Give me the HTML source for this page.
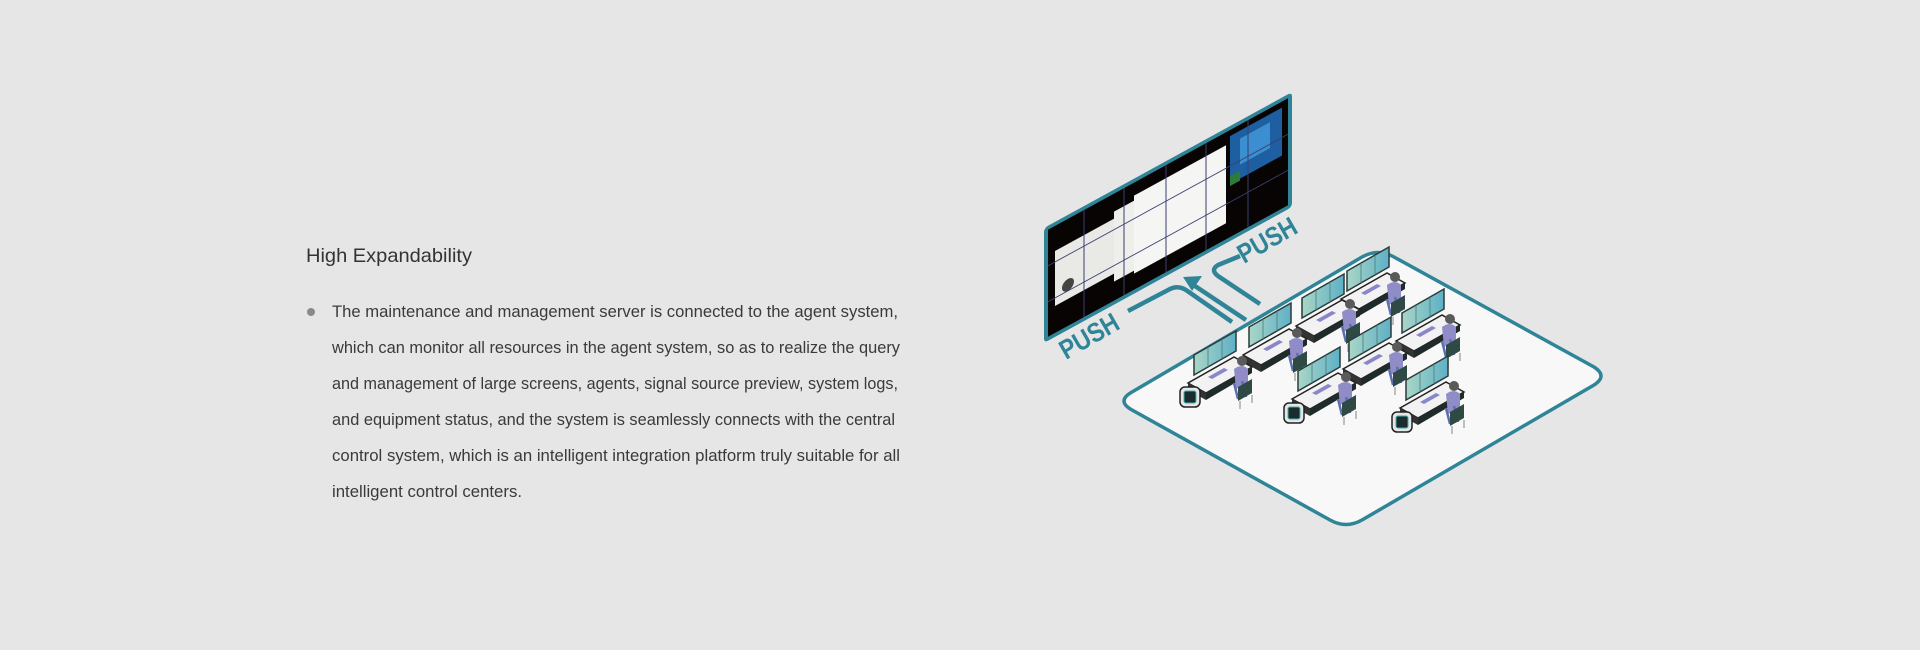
<!DOCTYPE html>
<html><head><meta charset="utf-8"><style>
html,body{margin:0;padding:0;background:#e6e6e6;}
body{width:1920px;height:650px;overflow:hidden;position:relative;font-family:"Liberation Sans",sans-serif;}
svg{position:absolute;left:0;top:0;}
</style></head><body>
<svg width="1920" height="650" viewBox="0 0 1920 650" xmlns="http://www.w3.org/2000/svg">
<defs>
<linearGradient id="mon" x1="0" y1="0" x2="1" y2="0"><stop offset="0" stop-color="#a9d6c6"/><stop offset="1" stop-color="#5fb0c6"/></linearGradient>
<g id="desk">
  <polygon points="-6,10 40,-16 58,-6 12,20" fill="#f2f2f2" stroke="#222" stroke-width="1.5"/>
  <polygon points="12,20 58,-6 58,0 12,27" fill="#1f2a2a"/>
  <polygon points="-6,10 12,20 12,27 -6,17" fill="#333"/>
  <polygon points="0,2 42,-22 42,-42 0,-18" fill="url(#mon)" stroke="#2b3b3b" stroke-width="1.5"/>
  <line x1="14" y1="-6" x2="14" y2="-26" stroke="#4a7a7a" stroke-width="0.8"/>
  <line x1="28" y1="-14" x2="28" y2="-34" stroke="#4a7a7a" stroke-width="0.8"/>
  <polygon points="14,4 30,-5 34,-3 18,6" fill="#8a86c9"/>
  <circle cx="48" cy="-12" r="5" fill="#5a5a5a"/>
  <path d="M40,-4 q8,-6 14,0 l0,14 l-12,6 z" fill="#8f8cc8"/>
  <path d="M40,10 l4,16 M48,8 l4,16" stroke="#5a6fb0" stroke-width="2.5"/>
  <path d="M44,14 l14,-8 l0,14 l-14,8 z" fill="#2f4a44"/>
  <path d="M46,28 l0,8 M58,22 l0,8" stroke="#aaa" stroke-width="1.5"/>
</g>
<g id="term">
  <rect x="-14" y="14" width="20" height="20" rx="5" fill="#e6e6e6" stroke="#222" stroke-width="1.5"/>
  <rect x="-10" y="18" width="12" height="12" rx="2" fill="#1c2b2b" stroke="#3fb0b0" stroke-width="1"/>
</g>
</defs>

<!-- text -->
<text x="306" y="262" font-size="19.5" fill="#333" textLength="166" lengthAdjust="spacingAndGlyphs">High Expandability</text>
<circle cx="311" cy="312" r="4" fill="#8a8a8a"/>
<g font-size="16.5" fill="#3a3a3a">
<text x="332" y="317" textLength="566" lengthAdjust="spacingAndGlyphs">The maintenance and management server is connected to the agent system,</text>
<text x="332" y="353" textLength="568" lengthAdjust="spacingAndGlyphs">which can monitor all resources in the agent system, so as to realize the query</text>
<text x="332" y="389" textLength="566" lengthAdjust="spacingAndGlyphs">and management of large screens, agents, signal source preview, system logs,</text>
<text x="332" y="425" textLength="563" lengthAdjust="spacingAndGlyphs">and equipment status, and the system is seamlessly connects with the central</text>
<text x="332" y="461" textLength="568" lengthAdjust="spacingAndGlyphs">control system, which is an intelligent integration platform truly suitable for all</text>
<text x="332" y="497" textLength="190" lengthAdjust="spacingAndGlyphs">intelligent control centers.</text>
</g>

<!-- floor -->
<path d="M1132,392 L1362,257 Q1378,248 1394,257 L1594,367 Q1608,376 1594,385 L1362,520 Q1346,529 1330,520 L1132,410 Q1116,401 1132,392 Z" fill="#f8f8f8" stroke="#2f8597" stroke-width="3.5"/>

<!-- screen -->
<g transform="matrix(1,-0.548,0,1,1044,228)">
  <rect x="0" y="0" width="248" height="115" rx="4" fill="#2f8597"/>
  <rect x="4" y="4" width="240" height="107" fill="#080404"/>
  <rect x="11" y="29" width="60" height="55" fill="#e9e9e6"/>
  <rect x="70" y="22" width="42" height="70" fill="#eeeeea"/>
  <rect x="90" y="17" width="92" height="78" fill="#f5f5f3"/>
  <rect x="186" y="10" width="52" height="48" fill="#1d5fa0"/>
  <rect x="196" y="18" width="30" height="26" fill="#3b8ed0"/>
  <rect x="186" y="50" width="10" height="10" fill="#2d7a3a"/>
  <circle cx="24" cy="70" r="6" fill="#444"/>
  <g stroke="#3a3f70" stroke-width="1">
    <line x1="40" y1="4" x2="40" y2="111"/><line x1="80" y1="4" x2="80" y2="111"/>
    <line x1="122" y1="4" x2="122" y2="111"/><line x1="162" y1="4" x2="162" y2="111"/>
    <line x1="204" y1="4" x2="204" y2="111"/>
    <line x1="4" y1="40" x2="244" y2="40"/><line x1="4" y1="76" x2="244" y2="76"/>
  </g>
</g>

<!-- arrows -->
<g fill="none" stroke="#2f8597" stroke-width="4.5" stroke-linecap="butt">
  <path d="M1128,311 L1170,289 Q1178,285 1186,290 L1232,322"/>
  <path d="M1246,320 L1192,284"/>
  <path d="M1260,304 L1218,276 Q1210,270 1218,265 L1240,256"/>
</g>
<polygon points="1183,277 1202,276 1192,291" fill="#2f8597"/>
<text transform="translate(1066,360) rotate(-30)" font-size="27" font-weight="bold" fill="#2f8597" textLength="64" lengthAdjust="spacingAndGlyphs">PUSH</text>
<text transform="translate(1244,264) rotate(-30)" font-size="27" font-weight="bold" fill="#2f8597" textLength="64" lengthAdjust="spacingAndGlyphs">PUSH</text>

<!-- desks -->
<use href="#desk" x="1347" y="289"/>
<use href="#desk" x="1302" y="316"/>
<use href="#desk" x="1249" y="345"/>
<use href="#desk" x="1194" y="373"/>
<use href="#desk" x="1402" y="331"/>
<use href="#desk" x="1349" y="359"/>
<use href="#desk" x="1298" y="389"/>
<use href="#desk" x="1406" y="398"/>
<use href="#term" x="1194" y="373"/>
<use href="#term" x="1298" y="389"/>
<use href="#term" x="1406" y="398"/>
</svg>
</body></html>
